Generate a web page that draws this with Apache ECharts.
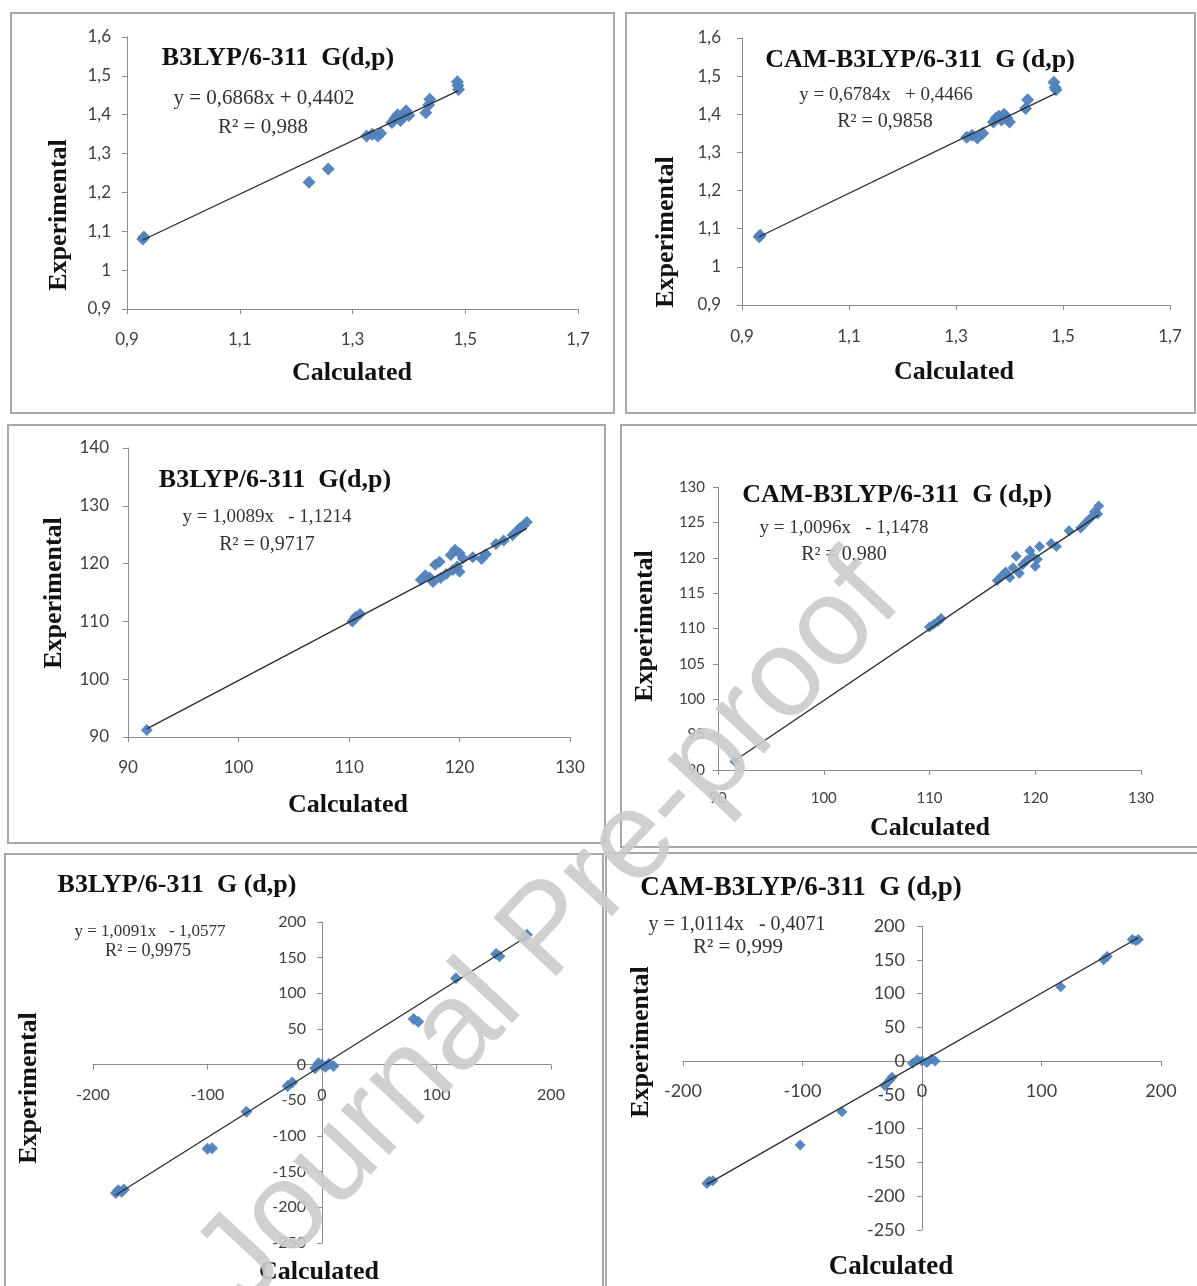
<!DOCTYPE html>
<html><head><meta charset="utf-8">
<script src="https://cdn.jsdelivr.net/npm/echarts@6/dist/echarts.min.js"></script>
<style>html,body{margin:0;padding:0;background:#fff}#c{width:1197px;height:1286px}</style>
</head><body><div id="c"></div>
<script>
// ---------- DATA ----------
const panelTitles = ['B3LYP/6-311  G(d,p)', 'CAM-B3LYP/6-311  G (d,p)', 'B3LYP/6-311  G(d,p)',
  'CAM-B3LYP/6-311  G (d,p)', 'B3LYP/6-311  G (d,p)', 'CAM-B3LYP/6-311  G (d,p)'];
const equationLabels = ['y = 0,6868x + 0,4402', 'y = 0,6784x   + 0,4466', 'y = 1,0089x   - 1,1214',
  'y = 1,0096x   - 1,1478', 'y = 1,0091x   - 1,0577', 'y = 1,0114x   - 0,4071'];
const r2Labels = ['R² = 0,988', 'R² = 0,9858', 'R² = 0,9717', 'R² = 0,980', 'R² = 0,9975', 'R² = 0,999'];
const slopes = [0.6868, 0.6784, 1.0089, 1.0096, 1.0091, 1.0114];
const intercepts = [0.4402, 0.4466, -1.1214, -1.1478, -1.0577, -0.4071];

const xTicks1 = [0.9, 1.1, 1.3, 1.5, 1.7];
const yTicks1 = [0.9, 1.0, 1.1, 1.2, 1.3, 1.4, 1.5, 1.6];
const xTicks2 = [90, 100, 110, 120, 130];
const yTicks3 = [90, 100, 110, 120, 130, 140];
const yTicks4 = [90, 95, 100, 105, 110, 115, 120, 125, 130];
const xTicks3 = [-200, -100, 0, 100, 200];
const yTicks5 = [-250, -200, -150, -100, -50, 0, 50, 100, 150, 200];

const points1 = [[0.928,1.080],[0.930,1.085],[1.223,1.226],[1.257,1.260],
  [1.325,1.345],[1.335,1.350],[1.345,1.345],[1.350,1.352],
  [1.370,1.380],[1.375,1.390],[1.380,1.400],[1.385,1.385],[1.390,1.395],[1.395,1.410],[1.400,1.398],
  [1.430,1.405],[1.435,1.425],[1.437,1.440],[1.486,1.485],[1.488,1.465],[1.487,1.475]];
const points2 = [[0.932,1.079],[0.934,1.083],[1.320,1.340],[1.330,1.345],[1.340,1.338],[1.350,1.350],
  [1.370,1.380],[1.375,1.390],[1.380,1.395],[1.385,1.385],[1.390,1.400],[1.395,1.390],[1.400,1.380],
  [1.430,1.415],[1.434,1.438],[1.483,1.484],[1.487,1.464],[1.485,1.470]];
const points3 = [[91.7,91.2],[110.3,110.0],[110.6,110.8],[111.0,111.3],[110.5,110.4],
  [116.5,117.2],[116.9,118.0],[117.3,117.6],[117.6,116.8],[117.8,119.8],[118.2,120.3],
  [118.3,117.5],[118.8,118.2],[119.2,121.5],[119.6,122.4],[120.0,121.8],[120.3,120.9],
  [119.8,119.5],[120.0,118.6],[119.4,118.9],[121.2,121.1],[122.0,120.8],[122.4,121.6],
  [123.3,123.4],[124.0,124.0],[124.8,124.9],[125.3,125.8],[125.8,126.6],[126.1,127.2],[125.5,126.2]];
const points4 = [[91.6,91.2],[110.0,110.2],[110.4,110.6],[110.8,111.0],[111.1,111.4],
  [116.4,116.8],[116.8,117.4],[117.2,118.0],[117.6,117.2],[117.9,118.6],[118.2,120.2],
  [118.5,117.8],[118.8,119.0],[119.2,119.6],[119.5,121.0],[119.7,120.2],[120.0,118.8],
  [120.2,119.8],[120.4,121.6],[121.5,122.0],[122.0,121.6],[123.2,123.8],[124.3,124.2],
  [124.8,125.0],[125.2,125.6],[125.6,126.5],[126.0,127.3],[125.9,126.2]];
const points5 = [[-180,-180],[-178,-176],[-175,-178],[-173,-175],[-100,-118],[-96,-117],[-66,-66],
  [-30,-30],[-26,-25],[-6,-5],[-3,2],[0,0],[3,-3],[6,1],[10,-2],[80,64],[84,60],[117,121],
  [152,155],[155,152],[176,178],[179,182]];
const points6 = [[-180,-181],[-178,-178],[-175,-177],[-102,-124],[-67,-75],[-31,-36],[-27,-28],
  [-25,-24],[-8,-3],[-4,2],[0,0],[4,-2],[8,3],[11,0],[116,110],[152,150],[155,155],
  [176,180],[179,178],[181,180]];

// ---------- LAYOUT / STYLE ----------
const allPoints = [points1, points2, points3, points4, points5, points6];
const xTickSets = [xTicks1, xTicks1, xTicks2, xTicks2, xTicks3, xTicks3];
const yTickSets = [yTicks1, yTicks1, yTicks3, yTicks4, yTicks5, yTicks5];
const grids = [
  {left:127, top:37, width:451, height:272},
  {left:742, top:38, width:428, height:267},
  {left:128, top:448, width:442, height:289},
  {left:718, top:487, width:423, height:283},
  {left:93, top:922, width:458, height:321},
  {left:683, top:926, width:478, height:304}
];
const tickFont = [17, 17, 17, 15, 16, 18];
const yMargin = [16, 21, 19, 13, 16, 17];
const xMargin = [22, 23, 22, 21, 22, 21];
const symSize = [13, 13, 12, 11, 12, 11];
const borders = [[11,13,603,400],[626,13,569,400],[8,425,597,418],[621,425,578,422],[5,854,598,440],[606,853,593,440]];
const titlePos = [[278,58,26],[920,60,26],[275,480,26],[897,495,26],[177,885,26],[801,888,27]];
const eqPos = [[264,98,21],[886,95,19],[267,517,19],[844,528,19],[150,932,17],[737,925,20]];
const r2Pos = [[263,127,21],[885,122,20],[267,545,20],[844,555,20],[148,951,18],[738,947,21]];
const calcPos = [[352,373],[954,372],[348,805],[930,828],[319,1272],[891,1267]];
const expPos = [[59,215],[666,232],[54,593],[645,626],[29,1088],[641,1042]];

const serif = '"Liberation Serif","DejaVu Serif",serif';
const fmt = v => String(+(+v).toFixed(2)).replace('.', ',');

const xAxis = [], yAxis = [], series = [], graphic = [];
for (let i = 0; i < 6; i++) {
  const xt = xTickSets[i], yt = yTickSets[i], g = grids[i];
  const xMin = xt[0], xMax = xt[xt.length-1], yMin = yt[0], yMax = yt[yt.length-1];
  // axes crossing at zero (panels 5, 6): shift the axis inward with a negative offset
  const crossX = (xMin < 0 && xMax > 0);
  const crossY = (yMin < 0 && yMax > 0);
  const yOff = crossX ? -((0 - xMin) / (xMax - xMin)) * g.width : 0;
  const xOff = crossY ? -((0 - yMin) / (yMax - yMin)) * g.height : 0;
  const common = {
    type: 'value', gridIndex: i, splitLine: {show: false},
    axisLine: {show: true, onZero: false, lineStyle: {color: '#8c8c8c', width: 1}},
    axisTick: {show: true, length: 5, lineStyle: {color: '#8c8c8c'}},
  };
  xAxis.push(Object.assign({}, common, {
    position: 'bottom', offset: xOff,
    min: xMin, max: xMax, interval: xt[1]-xt[0],
    axisTick: Object.assign({}, common.axisTick, {customValues: xt}),
    axisLabel: {customValues: xt, formatter: fmt, margin: xMargin[i], color: '#404040',
      fontFamily: 'Lato', fontSize: tickFont[i]}
  }));
  yAxis.push(Object.assign({}, common, {
    position: 'left', offset: yOff,
    min: yMin, max: yMax, interval: yt[1]-yt[0],
    axisTick: Object.assign({}, common.axisTick, {customValues: yt}),
    axisLabel: {customValues: yt, formatter: fmt, margin: yMargin[i], color: '#404040',
      fontFamily: 'Lato', fontSize: tickFont[i]}
  }));
  const pts = allPoints[i];
  series.push({
    type: 'scatter', xAxisIndex: i, yAxisIndex: i, data: pts,
    symbol: 'diamond', symbolSize: symSize[i],
    itemStyle: {color: '#4F81BD', opacity: 0.95}, z: 2
  });
  const xs = pts.map(p => p[0]);
  const x0 = Math.min(...xs), x1 = Math.max(...xs);
  series.push({
    type: 'line', xAxisIndex: i, yAxisIndex: i,
    data: [[x0, slopes[i]*x0 + intercepts[i]], [x1, slopes[i]*x1 + intercepts[i]]],
    symbol: 'none', lineStyle: {color: '#2b2b2b', width: 1.3}, z: 3, silent: true
  });
  const b = borders[i];
  graphic.push({type: 'rect', shape: {x: b[0], y: b[1], width: b[2], height: b[3]},
    style: {fill: 'none', stroke: '#a8a8a8', lineWidth: 2}, z: 0});
  const mk = (txt, x, y, font, fill, rot) => ({
    type: 'text', x: x, y: y, rotation: rot || 0, z: 10,
    style: {text: txt, font: font, fill: fill, align: 'center', verticalAlign: 'middle',
      textAlign: 'center', textVerticalAlign: 'middle'}
  });
  graphic.push(mk(panelTitles[i], titlePos[i][0], titlePos[i][1], 'bold ' + titlePos[i][2] + 'px ' + serif, '#111'));
  graphic.push(mk(equationLabels[i], eqPos[i][0], eqPos[i][1], eqPos[i][2] + 'px ' + serif, '#333'));
  graphic.push(mk(r2Labels[i], r2Pos[i][0], r2Pos[i][1], r2Pos[i][2] + 'px ' + serif, '#333'));
  graphic.push(mk('Calculated', calcPos[i][0], calcPos[i][1], 'bold ' + (i === 5 ? 27 : 26) + 'px ' + serif, '#111'));
  graphic.push(mk('Experimental', expPos[i][0], expPos[i][1], 'bold 26px ' + serif, '#111', Math.PI/2));
}
graphic.push({
  type: 'text', x: 550, y: 932, rotation: 47 * Math.PI / 180, z: 100,
  style: {text: 'Journal Pre-proof', font: '125px "Liberation Sans", Arial, sans-serif',
    fill: '#cbcbcb', opacity: 0.9, align: 'center', verticalAlign: 'middle',
    textAlign: 'center', textVerticalAlign: 'middle'}
});

const chart = echarts.init(document.getElementById('c'), null, {renderer: 'canvas'});
chart.setOption({
  animation: false, backgroundColor: '#fff',
  grid: grids.map(g => Object.assign({containLabel: false}, g)),
  xAxis: xAxis, yAxis: yAxis, series: series, graphic: graphic
});
</script></body></html>
